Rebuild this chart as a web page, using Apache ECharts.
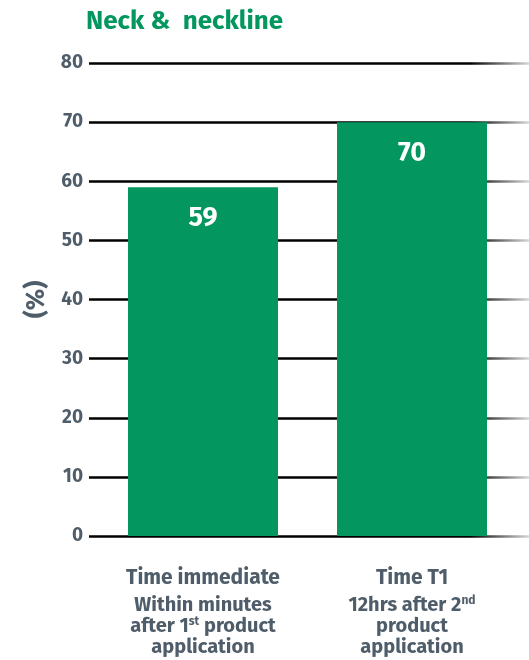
<!DOCTYPE html>
<html>
<head>
<meta charset="utf-8">
<script src="https://cdn.jsdelivr.net/npm/echarts@6/dist/echarts.min.js"></script>
<style>html,body{margin:0;padding:0;background:#fff}#c{width:529px;height:660px}</style>
</head>
<body>
<div id="c"></div>
<script>
var titleText = 'Neck &  neckline';
var categories = ['immediate', 'T1'];
var values = [59, 70];
var yTicks = { min: 0, max: 80, interval: 10 };
var yName = '(%)';

var slate = '#4e5d69';
var green = '#03975f';
var chart = echarts.init(document.getElementById('c'));
var fontFam = '"Fira Sans", "Noto Sans", "Open Sans", sans-serif';

var labelFor = {
  'immediate': '{h|Time immediate}\n{s|Within minutes}\n{s|after 1}{sup|st}{s| product}\n{s|application}',
  'T1': '{h|Time T1}\n{s|12hrs after 2}{sup|nd}\n{s|product}\n{s|application}'
};

chart.setOption({
  animation: false,
  title: {
    text: titleText, left: 81, top: 4,
    textStyle: { color: green, fontSize: 26, fontWeight: 'bold', fontFamily: fontFam }
  },
  grid: [
    { left: 89, right: 0, top: 63, bottom: 124 },
    { left: 98.5, right: 12.5, top: 63, bottom: 124 }
  ],
  xAxis: [
    { type: 'category', gridIndex: 0, data: categories, show: false },
    {
      type: 'category', gridIndex: 1, data: categories,
      axisLine: { show: false }, axisTick: { show: false },
      axisLabel: {
        margin: 26, fontFamily: fontFam, color: slate,
        formatter: function (v) { return labelFor[v]; },
        rich: {
          h: { fontSize: 21, fontWeight: 'bold', color: slate, lineHeight: 33, fontFamily: fontFam },
          s: { fontSize: 20, fontWeight: 'bold', color: slate, lineHeight: 21, fontFamily: fontFam },
          sup: { fontSize: 12, fontWeight: 'bold', color: slate, lineHeight: 21, verticalAlign: 'top', fontFamily: fontFam, padding: [0, 0, 6, 0] }
        }
      }
    }
  ],
  yAxis: [
    {
      type: 'value', gridIndex: 0, min: yTicks.min, max: yTicks.max, interval: yTicks.interval,
      name: yName, nameLocation: 'middle', nameGap: 37, nameRotate: 90,
      nameTextStyle: { color: slate, fontSize: 25, fontWeight: 'bold', fontFamily: fontFam },
      axisLine: { show: false }, axisTick: { show: false },
      axisLabel: { color: slate, fontSize: 19, fontWeight: 'bold', margin: 6, fontFamily: fontFam },
      splitLine: {
        show: true,
        lineStyle: {
          width: 2.5,
          color: new echarts.graphic.LinearGradient(470, 0, 529, 0, [
            { offset: 0, color: '#000000' },
            { offset: 1, color: '#d8d8d8' }
          ], true)
        }
      }
    },
    {
      type: 'value', gridIndex: 1, min: yTicks.min, max: yTicks.max, interval: yTicks.interval,
      show: false, splitLine: { show: false }
    }
  ],
  series: [{
    type: 'bar', xAxisIndex: 1, yAxisIndex: 1,
    data: values, barWidth: 150,
    itemStyle: { color: green },
    label: {
      show: true, position: 'insideTop', distance: 18,
      color: '#fff', fontSize: 27, fontWeight: 'bold', fontFamily: fontFam
    }
  }]
});
</script>
</body>
</html>
